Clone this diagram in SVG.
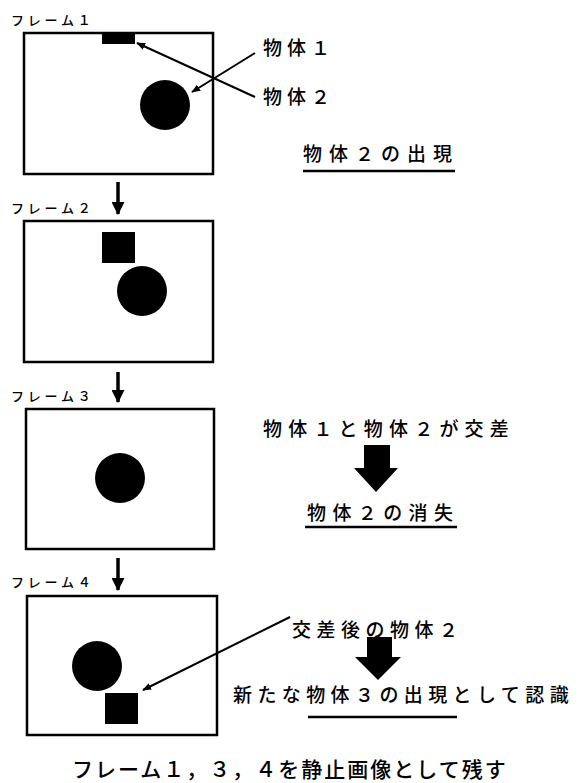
<svg xmlns="http://www.w3.org/2000/svg" width="583" height="783" viewBox="0 0 583 783">
<style>
.frame{fill:none;stroke:#000;stroke-width:2.5}
.obj{fill:#000}
.lbl{font-family:"Noto Sans CJK JP","Noto Sans",sans-serif;font-size:13px;letter-spacing:3.8px;font-weight:500;fill:#000}
.t{font-family:"Noto Sans CJK JP","Noto Sans",sans-serif;font-size:19px;font-weight:500;fill:#000}
.ft{font-family:"Noto Sans CJK JP","Noto Sans",sans-serif;font-size:21px;font-weight:500;letter-spacing:2px;fill:#000}
.ul{stroke:#000;stroke-width:2.5}
.conn{stroke:#000;stroke-width:2;fill:none}
.vconn{stroke:#000;stroke-width:3.5;fill:none}
.big{fill:#000}
</style>
<defs>
<marker id="ah" viewBox="0 0 10 10" refX="9" refY="5" markerWidth="9" markerHeight="9" orient="auto" markerUnits="userSpaceOnUse">
<path d="M0,1 L10,5 L0,9 z" fill="#000"/>
</marker>
<marker id="vh" viewBox="0 0 12 12" refX="11" refY="6" markerWidth="13" markerHeight="13" orient="auto" markerUnits="userSpaceOnUse">
<path d="M0,0 L12,6 L0,12 z" fill="#000"/>
</marker>
</defs>

<g id="frame1">
<text class="lbl" x="11" y="25">フレーム１</text>
<rect class="frame" x="24" y="33" width="189" height="141"/>
<rect class="obj" x="102" y="33" width="33" height="11"/>
<circle class="obj" cx="165" cy="105" r="25"/>
</g>
<g id="frame2">
<text class="lbl" x="11" y="213">フレーム２</text>
<rect class="frame" x="24" y="221" width="189" height="141"/>
<rect class="obj" x="102" y="232" width="33" height="31"/>
<circle class="obj" cx="142" cy="291" r="25"/>
</g>
<g id="frame3">
<text class="lbl" x="11" y="401">フレーム３</text>
<rect class="frame" x="26" y="409" width="188" height="140"/>
<circle class="obj" cx="120" cy="478" r="25"/>
</g>
<g id="frame4">
<text class="lbl" x="11" y="587">フレーム４</text>
<rect class="frame" x="27" y="596" width="190" height="139"/>
<circle class="obj" cx="97" cy="666" r="25"/>
<rect class="obj" x="105" y="693" width="33" height="31"/>
</g>

<g id="label-obj1"><text class="t" x="263" y="55" letter-spacing="5">物体１</text></g>
<g id="label-obj2"><text class="t" x="263" y="104" letter-spacing="5">物体２</text></g>
<g id="caption1">
<text class="t" x="303" y="161" letter-spacing="7">物体２の出現</text>
<line class="ul" x1="303" y1="171" x2="455" y2="171"/>
</g>
<g id="caption3a"><text class="t" x="263" y="436" letter-spacing="6.2">物体１と物体２が交差</text></g>
<g id="caption3b">
<text class="t" x="307" y="520" letter-spacing="6.4">物体２の消失</text>
<line class="ul" x1="305" y1="527" x2="457" y2="527"/>
</g>
<g id="label-cross"><text class="t" x="292" y="637" letter-spacing="5.5">交差後の物体２</text></g>
<g id="caption4">
<text class="t" x="233" y="702" letter-spacing="5.4">新たな物体３の出現として認識</text>
<line class="ul" x1="308" y1="717" x2="457" y2="717"/>
</g>
<g id="footer"><text class="ft" x="72" y="777">フレーム１，３，４を静止画像として残す</text></g>

<g id="connectors">
<line class="vconn" x1="118" y1="182" x2="118" y2="214" marker-end="url(#vh)"/>
<line class="vconn" x1="118" y1="372" x2="118" y2="402" marker-end="url(#vh)"/>
<line class="vconn" x1="118" y1="558" x2="118" y2="590" marker-end="url(#vh)"/>
<line class="conn" x1="255" y1="53" x2="192" y2="92" marker-end="url(#ah)"/>
<line class="conn" x1="255" y1="97" x2="137" y2="43" marker-end="url(#ah)"/>
<line class="conn" x1="290" y1="617" x2="143" y2="690" marker-end="url(#ah)"/>
<path class="big" d="M364,445 L390,445 L390,468 L398,468 L376,492 L354,468 L364,468 z"/>
<path class="big" d="M367,637 L392,637 L392,657 L401,657 L378,680 L355,657 L367,657 z"/>
</g>
</svg>
